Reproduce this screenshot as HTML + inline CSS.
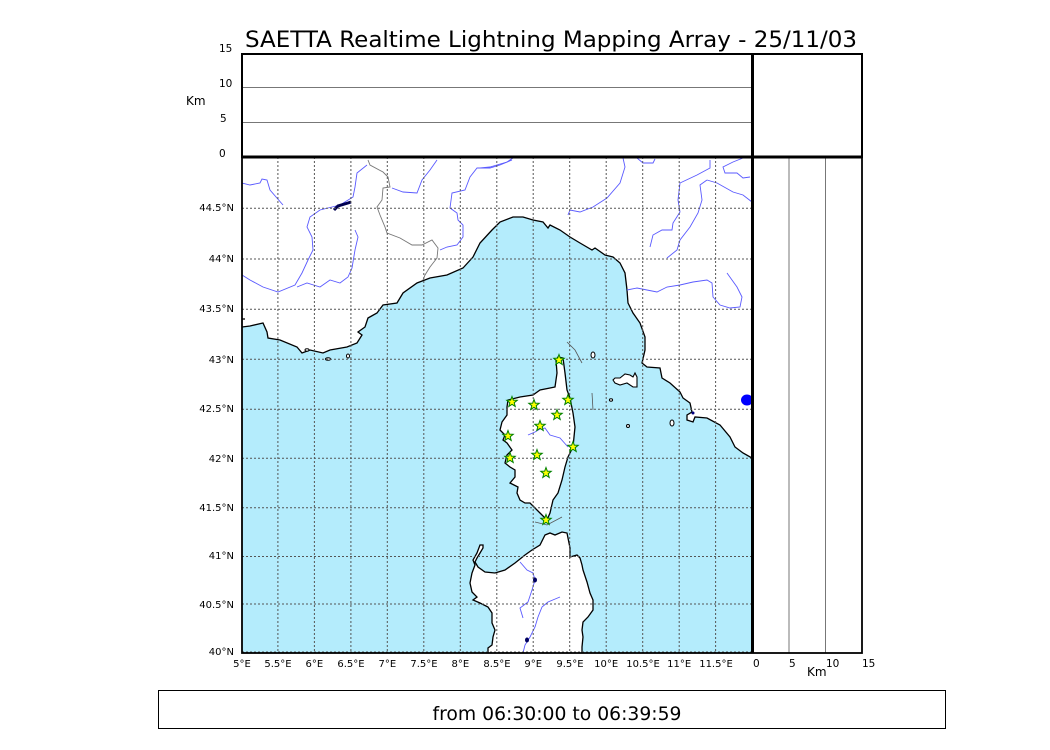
<!DOCTYPE html>
<html><head><meta charset="utf-8"><style>
html,body{margin:0;padding:0;background:#fff;}
svg{display:block;}
text{font-family:"DejaVu Sans","Liberation Sans",sans-serif;fill:#000;}
</style></head><body>
<svg width="1050" height="750" viewBox="0 0 1050 750" xmlns="http://www.w3.org/2000/svg">
<defs>
<clipPath id="mc"><rect x="242" y="157" width="510" height="496"/></clipPath>
<polygon id="st" points="0,-5.5 1.35,-1.86 5.23,-1.7 2.19,0.71 3.23,4.45 0,2.3 -3.23,4.45 -2.19,0.71 -5.23,-1.7 -1.35,-1.86"/>
</defs>
<rect width="1050" height="750" fill="#fff"/>
<text x="551" y="47" font-size="22" text-anchor="middle" textLength="612" lengthAdjust="spacingAndGlyphs">SAETTA Realtime Lightning Mapping Array - 25/11/03</text>

<g clip-path="url(#mc)">
<rect x="242" y="157" width="510" height="496" fill="#b4ecfc"/>
<!-- mainland -->
<polygon fill="#fff" points="242,327 250,326 263,323 267,332 268,338 280,340 297,347 302,353 310,350 323,353 330,350 347,347 357,343 362,335 358,332 365,327 368,318 377,313 383,305 397,303 403,293 417,283 430,278 447,275 463,268 473,257 480,243 492,230 500,222 513,217 523,217 533,220 543,222 548,228 550,225 560,230 570,237 580,243 592,250 595,248 605,255 613,257 620,263 625,273 627,290 628,303 633,313 640,323 645,337 645,350 642,363 647,367 660,368 662,378 670,383 680,392 683,398 690,403 692,412 687,415 687,420 693,422 695,417 707,418 720,425 730,437 735,447 743,453 752,458 760,458 760,150 242,150"/>
<polyline fill="none" stroke="#000" stroke-width="1.3" points="242,327 250,326 263,323 267,332 268,338 280,340 297,347 302,353 310,350 323,353 330,350 347,347 357,343 362,335 358,332 365,327 368,318 377,313 383,305 397,303 403,293 417,283 430,278 447,275 463,268 473,257 480,243 492,230 500,222 513,217 523,217 533,220 543,222 548,228 550,225 560,230 570,237 580,243 592,250 595,248 605,255 613,257 620,263 625,273 627,290 628,303 633,313 640,323 645,337 645,350 642,363 647,367 660,368 662,378 670,383 680,392 683,398 690,403 692,412 687,415 687,420 693,422 695,417 707,418 720,425 730,437 735,447 743,453 752,458"/>
<line x1="242" y1="319" x2="245" y2="319" stroke="#000" stroke-width="1.3"/>
<!-- small islands near Toulon -->
<ellipse cx="307" cy="350" rx="2" ry="1.2" fill="#fff" stroke="#000" stroke-width="1"/>
<ellipse cx="328" cy="359" rx="2.5" ry="1.3" fill="#fff" stroke="#000" stroke-width="1"/>
<ellipse cx="348" cy="356" rx="1.5" ry="2" fill="#fff" stroke="#000" stroke-width="1"/>
<!-- Corsica -->
<polygon fill="#fff" stroke="#000" stroke-width="1.3" points="558,357 563,358 565,373 567,390 570,398 573,413 575,427 573,447 568,457 565,467 562,480 558,493 553,500 550,513 547,520 540,513 535,508 530,503 525,503 520,500 517,493 518,487 510,483 515,477 515,470 510,467 505,463 507,455 512,450 507,443 503,440 505,435 500,430 502,422 507,415 507,407 508,400 520,397 533,395 540,390 550,388 555,387 557,373 556,360"/>
<!-- Sardinia -->
<polygon fill="#fff" stroke="#000" stroke-width="1.3" points="545,535 550,533 555,535 562,532 567,533 568,538 570,548 570,557 577,555 580,558 582,565 583,570 587,582 590,593 593,600 593,610 588,617 583,622 582,630 583,637 582,647 582,660 488,660 488,653 488,648 492,645 493,637 495,630 492,623 492,613 488,607 480,603 473,600 477,597 472,592 470,583 472,573 475,565 473,560 477,553 480,545 483,545 483,548 480,553 477,558 475,562 478,567 485,572 495,573 505,570 515,563 525,555 532,550 540,545"/>
<!-- Elba and islands -->
<polygon fill="#fff" stroke="#000" stroke-width="1.1" points="613,380 615,383 620,385 627,383 633,387 637,387 637,377 635,373 633,377 630,375 625,374 620,378 615,378"/>
<ellipse cx="593" cy="355" rx="2" ry="3" fill="#fff" stroke="#000" stroke-width="1"/>
<ellipse cx="611" cy="400" rx="1.6" ry="1.2" fill="#fff" stroke="#000" stroke-width="1"/>
<circle cx="628" cy="426" r="1.5" fill="#fff" stroke="#000" stroke-width="1"/>
<ellipse cx="672" cy="423" rx="2" ry="3" fill="#fff" stroke="#000" stroke-width="1"/>
<!-- gray lines in sea -->
<g fill="none" stroke="#555" stroke-width="0.8">
<polyline points="567,342 575,350 582,363"/>
<polyline points="592,393 593,410"/>
<polyline points="535,522 547,525 562,517"/>
</g>
<!-- border -->
<polyline fill="none" stroke="#777" stroke-width="0.9" points="368,160 370,165 383,172 388,177 390,187 383,188 382,200 377,207 380,215 385,227 387,233 400,238 412,245 422,245 432,240 438,248 437,258 430,267 425,275 423,280"/>
<!-- rivers -->
<g fill="none" stroke="#5a5aff" stroke-width="0.9">
<polyline points="242,183 250,185 260,183 262,179 267,180 270,190 283,205"/>
<polyline points="367,165 357,173 355,187 353,197 340,205 320,210 310,217 307,227 312,237 313,250 308,260 302,273 295,285 278,292 263,287 250,280 242,275"/>
<polyline points="297,287 307,283 320,287 330,280 340,283 348,277 352,268 355,250 358,237 355,230"/>
<polyline points="437,160 430,170 422,180 417,193 403,192 392,188"/>
<polyline points="512,160 500,165 490,168 477,168 470,177 465,190 452,193 450,208 457,213 458,220 463,225 463,237 457,245 447,247 440,250"/>
<polyline points="480,168 490,167 507,162 513,158"/>
<polyline points="623,158 625,167 620,183 607,198 593,207 580,212 570,210 568,215"/>
<polyline points="637,158 643,163 653,163 655,159"/>
<polyline points="710,160 710,168 697,175 680,183 678,200 680,212 673,223 672,230 662,230 653,235 650,247"/>
<polyline points="750,177 743,178 737,173 725,173 723,167 733,162 743,158"/>
<polyline points="707,180 717,183 733,192 743,195 752,202"/>
<polyline points="707,180 700,185 702,200 698,213 690,227 680,240 677,250 667,258"/>
<polyline points="627,290 637,288 647,290 657,292 667,287 680,285 693,282 707,280 712,283 713,297 720,305 730,308 740,307 742,297 737,287 732,280 727,273"/>
<polyline points="528,435 535,432 540,429 545,428 550,435 560,438 568,447"/>
<polyline points="520,562 527,570 533,573 535,580 532,590 528,602 520,608 523,618"/>
<polyline points="560,597 548,602 542,607 538,617 535,627 530,637 525,645 523,653"/>
</g>
<!-- lakes -->
<polyline fill="none" stroke="#000050" stroke-width="3" points="334,210 338,206 348,203 351,202"/>
<ellipse cx="535" cy="580" rx="2" ry="2.5" fill="#000060"/>
<ellipse cx="527" cy="640" rx="2" ry="2.5" fill="#000060"/>
<circle cx="693" cy="413" r="1.5" fill="#000080"/>
<ellipse cx="747" cy="400" rx="6" ry="5.5" fill="#0000ff"/>
<!-- grid -->
<g stroke="#555" stroke-width="1" stroke-dasharray="2,2" fill="none">
<line x1="277.9" y1="157" x2="277.9" y2="653"/>
<line x1="314.4" y1="157" x2="314.4" y2="653"/>
<line x1="350.9" y1="157" x2="350.9" y2="653"/>
<line x1="387.3" y1="157" x2="387.3" y2="653"/>
<line x1="423.8" y1="157" x2="423.8" y2="653"/>
<line x1="460.3" y1="157" x2="460.3" y2="653"/>
<line x1="496.8" y1="157" x2="496.8" y2="653"/>
<line x1="533.2" y1="157" x2="533.2" y2="653"/>
<line x1="569.7" y1="157" x2="569.7" y2="653"/>
<line x1="606.2" y1="157" x2="606.2" y2="653"/>
<line x1="642.7" y1="157" x2="642.7" y2="653"/>
<line x1="679.2" y1="157" x2="679.2" y2="653"/>
<line x1="715.6" y1="157" x2="715.6" y2="653"/>
<line x1="242" y1="604" x2="752" y2="604"/>
<line x1="242" y1="556.5" x2="752" y2="556.5"/>
<line x1="242" y1="507.7" x2="752" y2="507.7"/>
<line x1="242" y1="458.3" x2="752" y2="458.3"/>
<line x1="242" y1="409.3" x2="752" y2="409.3"/>
<line x1="242" y1="359.3" x2="752" y2="359.3"/>
<line x1="242" y1="309.3" x2="752" y2="309.3"/>
<line x1="242" y1="259" x2="752" y2="259"/>
<line x1="242" y1="208.3" x2="752" y2="208.3"/>
<line x1="242" y1="652" x2="752" y2="652"/>
</g>
<!-- stars -->
<g fill="#ffff00" stroke="#008000" stroke-width="1">
<use href="#st" x="559" y="360"/>
<use href="#st" x="512" y="402"/>
<use href="#st" x="534" y="405"/>
<use href="#st" x="568" y="400"/>
<use href="#st" x="557" y="415"/>
<use href="#st" x="540" y="426"/>
<use href="#st" x="508" y="436"/>
<use href="#st" x="573" y="447"/>
<use href="#st" x="537" y="455"/>
<use href="#st" x="510" y="458"/>
<use href="#st" x="546" y="473"/>
<use href="#st" x="546" y="520"/>
</g>
</g>

<!-- top panel -->
<line x1="242" y1="87.5" x2="752" y2="87.5" stroke="#777" stroke-width="1"/>
<line x1="242" y1="122.5" x2="752" y2="122.5" stroke="#777" stroke-width="1"/>
<rect x="242" y="54" width="620" height="103" fill="none" stroke="#000" stroke-width="2"/>
<!-- right panel -->
<line x1="789" y1="157" x2="789" y2="653" stroke="#777" stroke-width="1"/>
<line x1="825.5" y1="157" x2="825.5" y2="653" stroke="#777" stroke-width="1"/>
<rect x="242" y="157" width="620" height="496" fill="none" stroke="#000" stroke-width="1.8"/>
<line x1="242" y1="157" x2="862" y2="157" stroke="#000" stroke-width="3"/>
<line x1="752.5" y1="54" x2="752.5" y2="653" stroke="#000" stroke-width="3"/>

<!-- top panel labels -->
<g font-size="10.5">
<text x="219" y="52">15</text>
<text x="219" y="87">10</text>
<text x="220" y="122">5</text>
<text x="219" y="157">0</text>
</g>
<text x="186" y="105" font-size="12">Km</text>

<!-- y tick labels -->
<g font-size="10" text-anchor="end">
<text x="234" y="211">44.5°N</text>
<text x="234" y="262">44°N</text>
<text x="234" y="312">43.5°N</text>
<text x="234" y="363">43°N</text>
<text x="234" y="412">42.5°N</text>
<text x="234" y="462">42°N</text>
<text x="234" y="511">41.5°N</text>
<text x="234" y="559">41°N</text>
<text x="234" y="608">40.5°N</text>
<text x="234" y="655">40°N</text>
</g>
<!-- x tick labels -->
<g font-size="10" text-anchor="middle">
<text x="242" y="667">5°E</text>
<text x="278" y="667">5.5°E</text>
<text x="314.4" y="667">6°E</text>
<text x="351" y="667">6.5°E</text>
<text x="387.3" y="667">7°E</text>
<text x="424" y="667">7.5°E</text>
<text x="460.3" y="667">8°E</text>
<text x="497" y="667">8.5°E</text>
<text x="533.2" y="667">9°E</text>
<text x="570" y="667">9.5°E</text>
<text x="606.2" y="667">10°E</text>
<text x="643" y="667">10.5°E</text>
<text x="679.2" y="667">11°E</text>
<text x="716" y="667">11.5°E</text>
</g>
<g font-size="10.5">
<text x="753" y="667">0</text>
<text x="789" y="667">5</text>
<text x="826" y="667">10</text>
<text x="862" y="667">15</text>
</g>
<text x="807" y="676" font-size="12">Km</text>

<!-- caption -->
<rect x="158.5" y="690.5" width="787" height="38" fill="none" stroke="#000" stroke-width="1"/>
<text x="557" y="720" font-size="19" text-anchor="middle" textLength="249" lengthAdjust="spacingAndGlyphs">from 06:30:00 to 06:39:59</text>
</svg>
</body></html>
